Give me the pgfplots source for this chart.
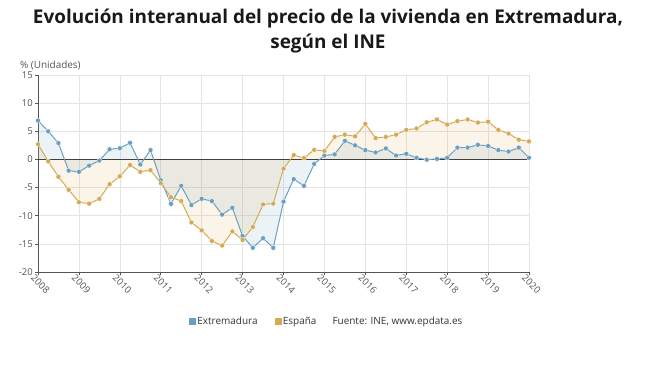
\documentclass[border=0pt]{standalone}
\usepackage{pgfplots}
\pgfplotsset{compat=1.18}
\usepackage{pgfplotstable}
\usepackage{fontspec}
\setmainfont{Open Sans}
\definecolor{cblue}{HTML}{6A9FC0}
\definecolor{cgold}{HTML}{D6A955}
\definecolor{tickgray}{HTML}{555555}
\definecolor{gridgray}{HTML}{E4E4E4}
\pgfplotstableread{
x ext esp
2008.00 6.9 2.7
2008.25 5.0 -0.35
2008.50 2.9 -3.1
2008.75 -2.0 -5.4
2009.00 -2.2 -7.6
2009.25 -1.1 -7.85
2009.50 -0.2 -7.0
2009.75 1.8 -4.4
2010.00 2.0 -3.0
2010.25 2.95 -1.0
2010.50 -0.9 -2.2
2010.75 1.65 -1.9
2011.00 -3.7 -4.2
2011.25 -7.9 -6.7
2011.50 -4.7 -7.4
2011.75 -8.1 -11.2
2012.00 -7.0 -12.6
2012.25 -7.4 -14.5
2012.50 -9.8 -15.3
2012.75 -8.6 -12.8
2013.00 -13.6 -14.3
2013.25 -15.7 -12.0
2013.50 -14.0 -8.0
2013.75 -15.7 -7.85
2014.00 -7.5 -1.65
2014.25 -3.5 0.77
2014.50 -4.7 0.24
2014.75 -0.8 1.7
2015.00 0.7 1.5
2015.25 0.9 4.0
2015.50 3.3 4.4
2015.75 2.5 4.1
2016.00 1.65 6.3
2016.25 1.24 3.8
2016.50 1.95 4.0
2016.75 0.7 4.4
2017.00 1.0 5.25
2017.25 0.3 5.5
2017.50 -0.05 6.6
2017.75 0.1 7.1
2018.00 0.3 6.2
2018.25 2.1 6.8
2018.50 2.1 7.1
2018.75 2.6 6.55
2019.00 2.4 6.7
2019.25 1.65 5.25
2019.50 1.4 4.6
2019.75 2.1 3.5
2020.00 0.3 3.2
}\datatable
\begin{document}
\begin{tikzpicture}[x=1bp,y=1bp]
\useasboundingbox (0,0) rectangle (656,370);
\node[font=\bfseries\fontsize{19}{24.5}\selectfont, align=center, text=black!90] at (328,339) {Evolución interanual del precio de la vivienda en Extremadura,\\según el INE};
\begin{axis}[
  at={(38bp,98bp)}, anchor=south west,
  scale only axis, width=491bp, height=197bp,
  xmin=2008, xmax=2020, ymin=-20, ymax=15,
  xtick={2008,...,2020},
  ytick={-20,-15,...,15},
  xticklabel style={/pgf/number format/1000 sep={}, rotate=-45, anchor=north west, font=\fontsize{9.5}{10}\selectfont, text=tickgray, xshift=-4bp, yshift=0bp, inner sep=1pt},
  yticklabel style={font=\fontsize{9.5}{10}\selectfont, text=tickgray, inner sep=2pt},
  /pgf/number format/assume math mode=true,
  xticklabel={\pgfmathprintnumber[1000 sep={},fixed]{\tick}},
  grid=major,
  major grid style={gridgray, line width=0.6pt},
  axis x line*=bottom, axis y line*=left,
  axis line style={tickgray, line width=0.8pt},
  tick style={tickgray, line width=0.6pt},
  major tick length=3bp,
  tick align=outside,
  clip=false,
  legend style={at={(0.588,-0.25)}, anchor=center, draw=none, fill=none, font=\fontsize{10}{11}\selectfont, text=black!80, /tikz/every even column/.append style={column sep=15bp}},
  legend columns=3,
  legend cell align=left,
]
\addplot[draw=none, fill=cblue, fill opacity=0.13, forget plot] table[x=x,y=ext] {\datatable} \closedcycle;
\addplot[draw=none, fill=cgold, fill opacity=0.13, forget plot] table[x=x,y=esp] {\datatable} \closedcycle;
\draw[black!75, line width=1.2pt] (axis cs:2008,0) -- (axis cs:2020,0);
\addplot[cblue, line width=1pt, mark=*, mark size=2.5pt, mark options={fill=cblue, draw=white, line width=0.3pt}, forget plot] table[x=x,y=ext] {\datatable};
\addplot[cgold, line width=1pt, mark=*, mark size=2.5pt, mark options={fill=cgold, draw=white, line width=0.3pt}, forget plot] table[x=x,y=esp] {\datatable};
\addlegendimage{legend image code/.code={\fill[cblue] (0bp,-3bp) rectangle (6bp,3bp);}}
\addlegendentry{Extremadura}
\addlegendimage{legend image code/.code={\fill[cgold] (0bp,-3bp) rectangle (6bp,3bp);}}
\addlegendentry{España}
\addlegendimage{empty legend}
\addlegendentry{\hspace*{-3bp}Fuente: INE, www.epdata.es}
\node[anchor=south west, font=\fontsize{10}{11}\selectfont, text=tickgray, inner sep=0pt] at (rel axis cs:-0.037,1.025) {\% (Unidades)};
\end{axis}
\end{tikzpicture}
\end{document}
